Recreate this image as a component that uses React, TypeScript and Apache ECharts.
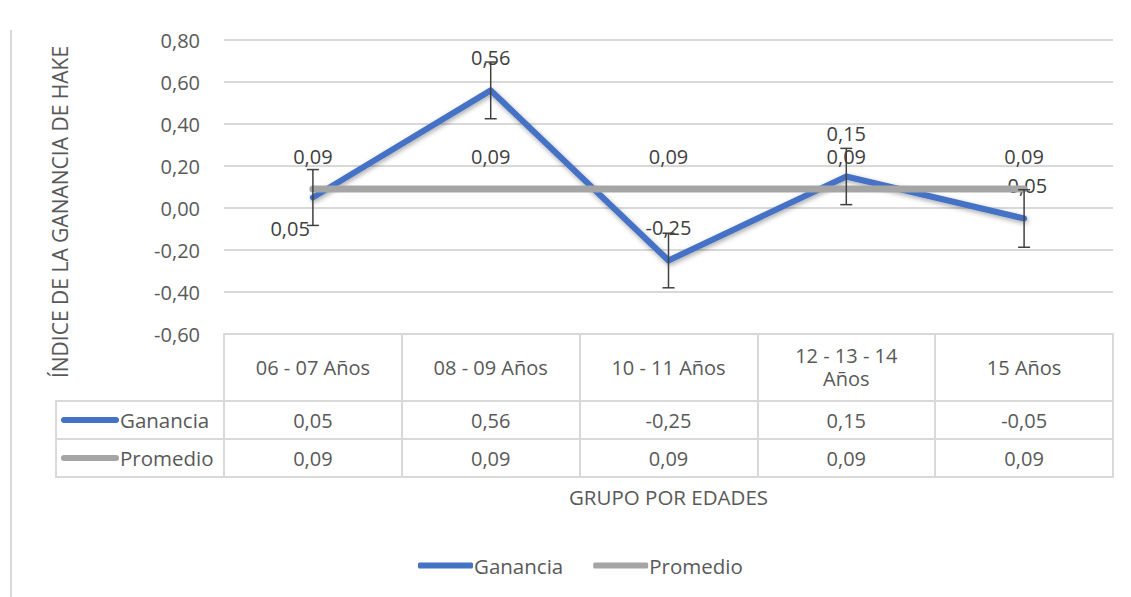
import React, { useEffect, useRef } from "react";
import * as echarts from "echarts";

const categories = ["06 - 07 Años", "08 - 09 Años", "10 - 11 Años", "12 - 13 - 14 Años", "15 Años"];
const ganancia = [0.05, 0.56, -0.25, 0.15, -0.05];
const promedio = [0.09, 0.09, 0.09, 0.09, 0.09];
const errorMargin = [0.133, 0.135, 0.13, 0.134, 0.137];
const seriesNames = ["Ganancia", "Promedio"];
const yTitle = "ÍNDICE DE LA GANANCIA DE HAKE";
const xTitle = "GRUPO POR EDADES";

const BLUE = "#4472C4";
const GRAY = "#A5A5A5";
const BORDER = "#D9D9D9";
const TXT = "#595959";
const FONT = "Open Sans";

const fmt = (v: number) => {
  const x = Math.abs(v) < 1e-9 ? 0 : v;
  return x.toFixed(2).replace(".", ",");
};

export default function App() {
  const ref = useRef<HTMLDivElement>(null);
  useEffect(() => {
    document.body.style.margin = "0";
    const chart = echarts.init(ref.current!, undefined, { renderer: "svg" });

    const tableAxis = (offset: number, values: number[] | null, tickLen: number, extra: any = {}) => ({
      type: "category",
      data: categories,
      position: "bottom",
      offset,
      boundaryGap: true,
      axisLine: { show: true, onZero: false, lineStyle: { color: BORDER, width: 2 } },
      axisTick: { show: tickLen > 0, length: tickLen, interval: 0, alignWithLabel: false, lineStyle: { color: BORDER, width: 2 } },
      axisLabel: {
        show: values !== null,
        interval: 0,
        margin: 19,
        verticalAlign: "middle",
        color: TXT,
        fontFamily: FONT,
        fontSize: 20,
        formatter: (_v: string, i: number) => (values ? fmt(values[i]) : ""),
      },
      splitLine: { show: false },
      ...extra,
    });

    const labelTop = { show: true, position: "top", distance: 22, color: "#404040", fontFamily: FONT, fontSize: 20, lineHeight: 20, formatter: (p: any) => fmt(p.value) };

    const ganLabel = (i: number) => {
      if (i === 0) return { position: "left", distance: 2, offset: [0, 31] };
      if (i === 3) return { position: "top", offset: [0, -10] };
      return {};
    };

    const rowKey = (y: number, color: string, name: string) => [
      { type: "line", shape: { x1: 64, y1: y, x2: 116, y2: y }, style: { stroke: color, lineWidth: 6, lineCap: "round" } },
      { type: "text", x: 120, y, style: { text: name, fill: TXT, font: `20.5px '${FONT}'`, verticalAlign: "middle", align: "left" } },
    ];

    chart.setOption({
      animation: false,
      backgroundColor: "#ffffff",
      textStyle: { fontFamily: FONT },
      grid: { left: 224, right: 18, top: 40, bottom: 263 },
      legend: {
        left: 413,
        top: 550,
        itemWidth: 55,
        itemHeight: 6,
        itemGap: 30,
        icon: "roundRect",
        data: seriesNames,
        textStyle: { color: TXT, fontFamily: FONT, fontSize: 20.5, padding: [0, 0, 0, -4] },
      },
      xAxis: [
        {
          ...tableAxis(0, null, 67),
          axisLabel: {
            show: true,
            interval: 0,
            margin: 33,
            verticalAlign: "middle",
            color: TXT,
            fontFamily: FONT,
            fontSize: 20,
            lineHeight: 23,
            formatter: (v: string) => (v.length > 14 ? v.replace(" Años", "\nAños") : v),
          },
        },
        tableAxis(67, ganancia, 38),
        tableAxis(105, promedio, 38),
        tableAxis(143, null, 0, {
          name: xTitle,
          nameLocation: "middle",
          nameGap: 9,
          nameTextStyle: { color: TXT, fontFamily: FONT, fontSize: 20.5, verticalAlign: "top" },
        }),
      ],
      yAxis: {
        type: "value",
        min: -0.6,
        max: 0.8,
        interval: 0.2,
        axisLine: { show: false },
        axisTick: { show: false },
        splitLine: { lineStyle: { color: BORDER, width: 2 } },
        axisLabel: { color: TXT, fontFamily: FONT, fontSize: 20, margin: 24, formatter: (v: number) => fmt(v) },
        name: yTitle,
        nameLocation: "middle",
        nameGap: 154,
        nameTextStyle: { color: TXT, fontFamily: FONT, fontSize: 21, padding: [0, 50, 0, 0] },
      },
      graphic: [
        { type: "line", shape: { x1: 11, y1: 30, x2: 11, y2: 597 }, style: { stroke: BORDER, lineWidth: 2 } },
        { type: "line", shape: { x1: 56, y1: 401, x2: 224, y2: 401 }, style: { stroke: BORDER, lineWidth: 2 } },
        { type: "line", shape: { x1: 56, y1: 439, x2: 224, y2: 439 }, style: { stroke: BORDER, lineWidth: 2 } },
        { type: "line", shape: { x1: 56, y1: 477, x2: 224, y2: 477 }, style: { stroke: BORDER, lineWidth: 2 } },
        { type: "line", shape: { x1: 56, y1: 400, x2: 56, y2: 478 }, style: { stroke: BORDER, lineWidth: 2 } },
        ...rowKey(420, BLUE, seriesNames[0]),
        ...rowKey(458, GRAY, seriesNames[1]),
      ],
      series: [
        {
          name: seriesNames[0],
          type: "line",
          xAxisIndex: 0,
          data: ganancia.map((v, i) => ({ value: v, label: ganLabel(i) })),
          color: BLUE,
          symbol: "circle",
          symbolSize: 2,
          lineStyle: { color: BLUE, width: 6, cap: "round", join: "round", shadowBlur: 5, shadowColor: "rgba(0,0,0,0.35)", shadowOffsetY: 2, shadowOffsetX: 1 },
          itemStyle: { color: BLUE },
          label: labelTop,
          z: 2,
        },
        {
          name: seriesNames[1],
          type: "line",
          xAxisIndex: 0,
          data: promedio,
          color: GRAY,
          symbol: "circle",
          symbolSize: 2,
          lineStyle: { color: GRAY, width: 7, cap: "round", join: "round" },
          itemStyle: { color: GRAY },
          label: labelTop,
          z: 3,
        },
        {
          type: "custom",
          xAxisIndex: 0,
          z: 4,
          data: ganancia.map((v, i) => [i, v - errorMargin[i], v + errorMargin[i]]),
          renderItem: (_params: any, api: any) => {
            const i = api.value(0);
            const lo = api.coord([i, api.value(1)]);
            const hi = api.coord([i, api.value(2)]);
            const c = 6;
            const st = { stroke: "#404040", lineWidth: 1.5 };
            return {
              type: "group",
              children: [
                { type: "line", shape: { x1: lo[0], y1: lo[1], x2: hi[0], y2: hi[1] }, style: st },
                { type: "line", shape: { x1: lo[0] - c, y1: lo[1], x2: lo[0] + c, y2: lo[1] }, style: st },
                { type: "line", shape: { x1: hi[0] - c, y1: hi[1], x2: hi[0] + c, y2: hi[1] }, style: st },
              ],
            };
          },
        },
      ],
    });
    return () => chart.dispose();
  }, []);
  return <div ref={ref} style={{ width: 1131, height: 597 }} />;
}
